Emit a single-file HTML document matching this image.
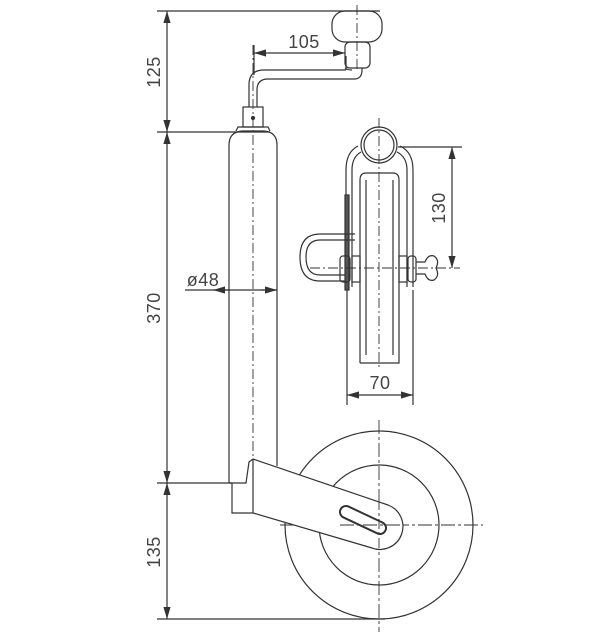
<!DOCTYPE html>
<html><head><style>html,body{margin:0;padding:0;background:#fff;}svg{display:block}text{font-family:"Liberation Sans",sans-serif;fill:#444;stroke:none;font-size:18px;letter-spacing:0.5px}</style></head>
<body>
<svg width="613" height="637" viewBox="0 0 613 637" xmlns="http://www.w3.org/2000/svg" fill="none" stroke="#333" stroke-width="1.2">
<defs>
<marker id="a" viewBox="0 0 10 6" refX="10" refY="3" markerWidth="10" markerHeight="6" orient="auto-start-reverse"><path d="M0,0 L10,3 L0,6z" fill="#333" stroke="none"/></marker>
</defs>
<!-- left dims -->
<line x1="157" y1="11" x2="380" y2="11"/>
<line x1="157" y1="132" x2="270" y2="132"/>
<line x1="157" y1="483" x2="232" y2="483"/>
<line x1="157" y1="619" x2="385" y2="619"/>
<line x1="167" y1="11" x2="167" y2="132" marker-start="url(#a)" marker-end="url(#a)"/>
<line x1="167" y1="132" x2="167" y2="483" marker-start="url(#a)" marker-end="url(#a)"/>
<line x1="167" y1="483" x2="167" y2="619" marker-start="url(#a)" marker-end="url(#a)"/>
<text transform="translate(160,72) rotate(-90)" text-anchor="middle">125</text>
<text transform="translate(160,308) rotate(-90)" text-anchor="middle">370</text>
<text transform="translate(160,552) rotate(-90)" text-anchor="middle">135</text>
<!-- tube -->
<path d="M229,483 V145 Q229,132 242,131 H264 Q277,132 277,145 V466"/>
<path d="M236,131 L238,127 H268 L270,131"/>
<rect x="243" y="107" width="20" height="20"/>
<circle cx="253" cy="118" r="1.5" fill="#333"/>
<line x1="253" y1="45" x2="253" y2="483" stroke-dasharray="10,3,2,3" stroke-width="0.9"/>
<!-- crank -->
<path d="M249,107 V85 Q249,70 264,70 H346"/>
<path d="M257,107 V90 Q257,79 268,79 H354 Q362,79 362,70 V68"/>
<path d="M346,70 V56 M345,68 Q347,70 352,70"/>
<rect x="345" y="42" width="25" height="26" rx="5"/>
<rect x="332" y="11" width="50" height="31" rx="13"/>
<line x1="357" y1="5" x2="357" y2="70" stroke-dasharray="10,3,2,3" stroke-width="0.9"/>
<!-- 105 -->
<line x1="254" y1="45" x2="254" y2="75"/>
<line x1="254" y1="53" x2="345" y2="53" marker-start="url(#a)" marker-end="url(#a)"/>
<text x="304" y="48" text-anchor="middle">105</text>
<!-- ø48 -->
<line x1="185" y1="290" x2="277" y2="290"/>
<line x1="229" y1="290" x2="213" y2="290" marker-end="url(#a)"/>
<line x1="277" y1="290" x2="261" y2="290" marker-start="url(#a)"/>
<text x="203" y="286" text-anchor="middle">ø48</text>
<!-- right view -->
<line x1="379" y1="118" x2="379" y2="370" stroke-dasharray="10,3,2,3" stroke-width="0.9"/>
<circle cx="379" cy="145" r="18"/><circle cx="379" cy="145" r="15"/>
<path d="M358,146 Q346,152 346,170 V287 M352,287 V170 Q352,157 361,152"/>
<path d="M400,146 Q413,152 413,170 V287 M407,287 V170 Q407,157 397,152"/>
<path d="M360,363 V180 Q360,173 366,173 H393 Q399,173 399,180 V363 Q399,363 396,363 H363 Q360,363 360,363"/>
<path d="M366,180 V355 M393,180 V355"/>
<rect x="345" y="195" width="4" height="95" fill="#555"/>
<path d="M355,234 H320 Q300,234 300,257 Q300,281 320,281 H345 M355,240 H320 Q306,240 306,257 Q306,275 320,275 H345"/>
<rect x="340" y="256" width="10" height="26" rx="3"/>
<rect x="352" y="256" width="8" height="26"/>
<rect x="399" y="256" width="8" height="26"/>
<rect x="408" y="256" width="8" height="26" rx="3"/>
<path d="M416,262 H425 Q428,254 434,256 Q440,260 436,268 Q440,276 434,280 Q428,282 425,274 H416"/>
<line x1="310" y1="268" x2="460" y2="268" stroke-dasharray="10,3,2,3" stroke-width="0.9"/>
<!-- 130 -->
<line x1="398" y1="147" x2="462" y2="147"/>
<line x1="452" y1="147" x2="452" y2="268" marker-start="url(#a)" marker-end="url(#a)"/>
<text transform="translate(445,208) rotate(-90)" text-anchor="middle">130</text>
<!-- 70 -->
<line x1="347" y1="290" x2="347" y2="405"/>
<line x1="413" y1="290" x2="413" y2="405"/>
<line x1="347" y1="395" x2="413" y2="395" marker-start="url(#a)" marker-end="url(#a)"/>
<text x="380" y="389" text-anchor="middle">70</text>
<!-- wheel -->
<circle cx="379" cy="525" r="94"/>
<circle cx="379" cy="525" r="60"/>
<line x1="280" y1="525" x2="483" y2="525" stroke-dasharray="14,3,3,3" stroke-width="0.9"/>
<line x1="379" y1="420" x2="379" y2="632" stroke-dasharray="14,3,3,3" stroke-width="0.9"/>
<path d="M232,483 V513 H253 V459 M253,459 L388,505 A22,22 0 0 1 372,548 L253,513" fill="#fff"/>
<path d="M229,483 H246 L249,462 L253,459"/>
<line x1="346" y1="512" x2="380" y2="528" stroke-width="14" stroke-linecap="round"/>
<line x1="346" y1="512" x2="380" y2="528" stroke-width="10" stroke-linecap="round" stroke="#fff"/>
<line x1="340" y1="525" x2="400" y2="525" stroke-dasharray="14,3,3,3" stroke-width="0.9"/>
<line x1="379" y1="500" x2="379" y2="550" stroke-dasharray="10,3,3,3" stroke-width="0.9"/>
</svg>
</body></html>
